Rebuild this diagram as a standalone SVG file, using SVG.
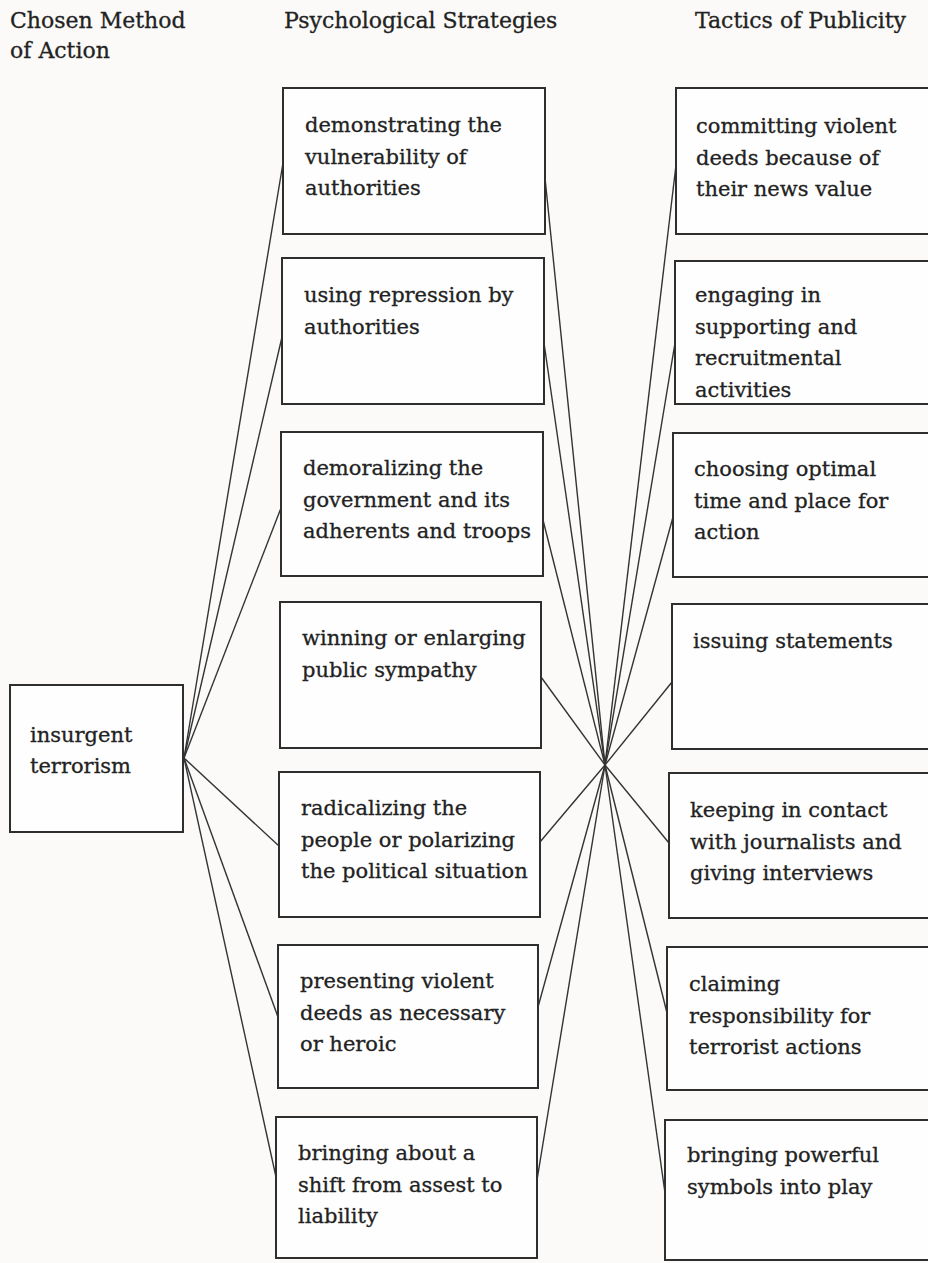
<svg xmlns="http://www.w3.org/2000/svg" width="928" height="1263" viewBox="0 0 928 1263">
<style>
.bg{fill:#fbfaf8}
.box{fill:#fefefe;stroke:#2e2e2e;stroke-width:2}
.lbl{font-family:"DejaVu Serif","Liberation Serif",serif;font-size:21px;fill:#222;stroke:#222;stroke-width:0.3}
.hdr{font-family:"DejaVu Serif","Liberation Serif",serif;font-size:22px;fill:#222;stroke:#222;stroke-width:0.3}
.con line{stroke:#333;stroke-width:1.4;fill:none}
</style>
<rect class="bg" x="0" y="0" width="928" height="1263"/>
<g id="headers">
<text class="hdr" x="10" y="28">Chosen Method</text>
<text class="hdr" x="10" y="58">of Action</text>
<text class="hdr" x="284" y="28">Psychological Strategies</text>
<text class="hdr" x="695" y="28">Tactics of Publicity</text>
</g>
<g id="connectors" class="con">
<line x1="184" y1="758" x2="283" y2="163"/>
<line x1="184" y1="758" x2="282" y2="337"/>
<line x1="184" y1="758" x2="281" y2="508"/>
<line x1="184" y1="758" x2="279" y2="846"/>
<line x1="184" y1="758" x2="278" y2="1017"/>
<line x1="184" y1="758" x2="276" y2="1177"/>
<line x1="545" y1="178" x2="605" y2="765"/>
<line x1="544" y1="343" x2="605" y2="765"/>
<line x1="543" y1="520" x2="605" y2="765"/>
<line x1="541" y1="677" x2="605" y2="765"/>
<line x1="540" y1="842" x2="605" y2="765"/>
<line x1="538" y1="1007" x2="605" y2="765"/>
<line x1="537" y1="1180" x2="605" y2="765"/>
<line x1="605" y1="765" x2="676" y2="165"/>
<line x1="605" y1="765" x2="675" y2="343"/>
<line x1="605" y1="765" x2="673" y2="517"/>
<line x1="605" y1="765" x2="672" y2="682"/>
<line x1="605" y1="765" x2="669" y2="843"/>
<line x1="605" y1="765" x2="667" y2="1013"/>
<line x1="605" y1="765" x2="665" y2="1193"/>
</g>
<g id="insurgent-terrorism">
<rect class="box" x="10" y="685" width="173" height="147"/>
<text class="lbl" x="30" y="742">insurgent</text>
<text class="lbl" x="30" y="773">terrorism</text>
</g>
<g id="ps1">
<rect class="box" x="283" y="88" width="262" height="146"/>
<text class="lbl" x="305" y="132">demonstrating the</text>
<text class="lbl" x="305" y="163.5">vulnerability of</text>
<text class="lbl" x="305" y="195">authorities</text>
</g>
<g id="ps2">
<rect class="box" x="282" y="258" width="262" height="146"/>
<text class="lbl" x="304" y="302">using repression by</text>
<text class="lbl" x="304" y="333.5">authorities</text>
</g>
<g id="ps3">
<rect class="box" x="281" y="432" width="262" height="144"/>
<text class="lbl" x="303" y="475">demoralizing the</text>
<text class="lbl" x="303" y="506.5">government and its</text>
<text class="lbl" x="303" y="538">adherents and troops</text>
</g>
<g id="ps4">
<rect class="box" x="280" y="602" width="261" height="146"/>
<text class="lbl" x="302" y="645">winning or enlarging</text>
<text class="lbl" x="302" y="676.5">public sympathy</text>
</g>
<g id="ps5">
<rect class="box" x="279" y="772" width="261" height="145"/>
<text class="lbl" x="301" y="815">radicalizing the</text>
<text class="lbl" x="301" y="846.5">people or polarizing</text>
<text class="lbl" x="301" y="878">the political situation</text>
</g>
<g id="ps6">
<rect class="box" x="278" y="945" width="260" height="143"/>
<text class="lbl" x="300" y="988">presenting violent</text>
<text class="lbl" x="300" y="1019.5">deeds as necessary</text>
<text class="lbl" x="300" y="1051">or heroic</text>
</g>
<g id="ps7">
<rect class="box" x="276" y="1117" width="261" height="141"/>
<text class="lbl" x="298" y="1160">bringing about a</text>
<text class="lbl" x="298" y="1191.5">shift from assest to</text>
<text class="lbl" x="298" y="1223">liability</text>
</g>
<g id="tp1">
<rect class="box" x="676" y="88" width="280" height="146"/>
<text class="lbl" x="696" y="133">committing violent</text>
<text class="lbl" x="696" y="164.5">deeds because of</text>
<text class="lbl" x="696" y="196">their news value</text>
</g>
<g id="tp2">
<rect class="box" x="675" y="261" width="280" height="143"/>
<text class="lbl" x="695" y="302">engaging in</text>
<text class="lbl" x="695" y="333.5">supporting and</text>
<text class="lbl" x="695" y="365">recruitmental</text>
<text class="lbl" x="695" y="396.5">activities</text>
</g>
<g id="tp3">
<rect class="box" x="673" y="433" width="280" height="144"/>
<text class="lbl" x="694" y="476">choosing optimal</text>
<text class="lbl" x="694" y="507.5">time and place for</text>
<text class="lbl" x="694" y="539">action</text>
</g>
<g id="tp4">
<rect class="box" x="672" y="604" width="280" height="145"/>
<text class="lbl" x="693" y="648">issuing statements</text>
</g>
<g id="tp5">
<rect class="box" x="669" y="773" width="280" height="145"/>
<text class="lbl" x="690" y="817">keeping in contact</text>
<text class="lbl" x="690" y="848.5">with journalists and</text>
<text class="lbl" x="690" y="880">giving interviews</text>
</g>
<g id="tp6">
<rect class="box" x="667" y="947" width="280" height="143"/>
<text class="lbl" x="689" y="991">claiming</text>
<text class="lbl" x="689" y="1022.5">responsibility for</text>
<text class="lbl" x="689" y="1054">terrorist actions</text>
</g>
<g id="tp7">
<rect class="box" x="665" y="1120" width="280" height="140"/>
<text class="lbl" x="687" y="1162">bringing powerful</text>
<text class="lbl" x="687" y="1193.5">symbols into play</text>
</g>
</svg>
